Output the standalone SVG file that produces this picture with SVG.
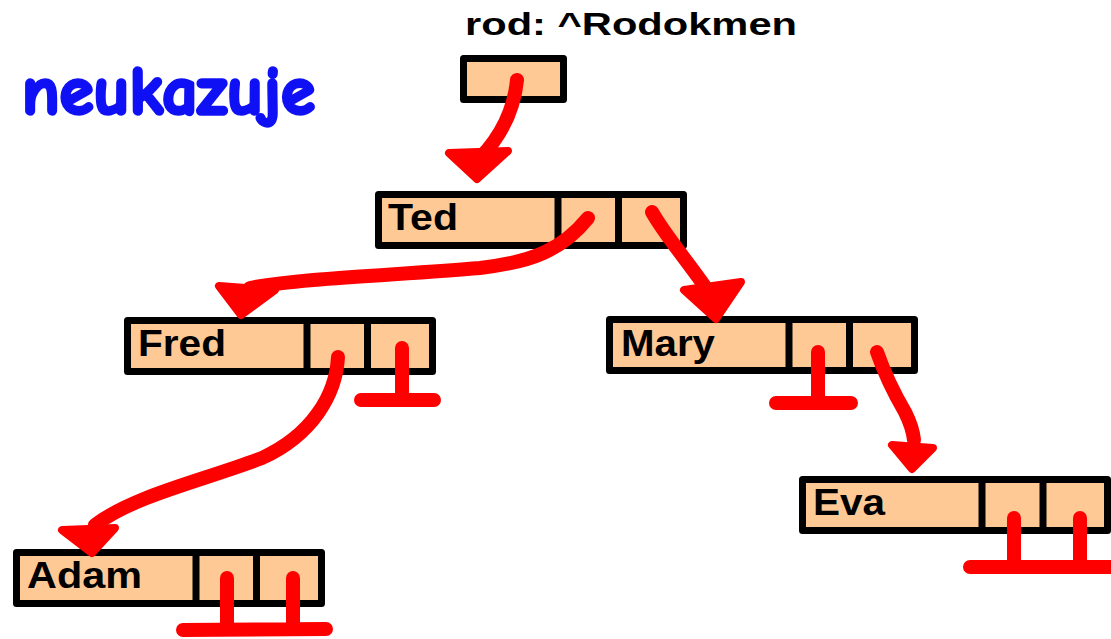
<svg xmlns="http://www.w3.org/2000/svg" width="1111" height="639" viewBox="0 0 1111 639">
  <style>
    .cell { fill: #FFC995; stroke: #000; stroke-width: 7; stroke-linejoin: round; }
    .div { stroke: #000; stroke-width: 7; }
    .name { font-family: "Liberation Sans", Arial, sans-serif; font-weight: bold; font-size: 36px; fill: #000; }
    .ptr { fill: none; stroke: #FF0000; stroke-width: 14; stroke-linecap: round; stroke-linejoin: round; }
    .head { fill: #FF0000; stroke: #FF0000; stroke-width: 8; stroke-linejoin: round; }
  </style>
  <rect width="1111" height="639" fill="#fff"/>

  <text x="465" y="35" font-family="'Liberation Sans', Arial, sans-serif" font-weight="bold" font-size="31" textLength="332" lengthAdjust="spacingAndGlyphs">rod: ^Rodokmen</text>
  <text x="22" y="114" font-family="'Comic Neue', 'DejaVu Sans', sans-serif" font-weight="bold" font-size="69" fill="#1010F5" stroke="#1010F5" stroke-width="3.5" stroke-linejoin="round" textLength="293" lengthAdjust="spacingAndGlyphs">neukazuje</text>

  <g id="rod">
    <rect class="cell" x="463.5" y="58.5" width="100" height="41"/>
  </g>

  <g id="ted" transform="translate(375,191)">
    <rect class="cell" x="3.5" y="3.5" width="305" height="51"/>
    <line class="div" x1="183" y1="0" x2="183" y2="58"/>
    <line class="div" x1="243.5" y1="0" x2="243.5" y2="58"/>
    <text class="name" x="13" y="39" textLength="70" lengthAdjust="spacingAndGlyphs">Ted</text>
  </g>

  <g id="fred" transform="translate(124,317)">
    <rect class="cell" x="3.5" y="3.5" width="305" height="51"/>
    <line class="div" x1="183" y1="0" x2="183" y2="58"/>
    <line class="div" x1="243.5" y1="0" x2="243.5" y2="58"/>
    <text class="name" x="14" y="39" textLength="88" lengthAdjust="spacingAndGlyphs">Fred</text>
  </g>

  <g id="mary" transform="translate(606,316)">
    <rect class="cell" x="3.5" y="3.5" width="305" height="51"/>
    <line class="div" x1="183" y1="0" x2="183" y2="58"/>
    <line class="div" x1="243.5" y1="0" x2="243.5" y2="58"/>
    <text class="name" x="15" y="40" textLength="94" lengthAdjust="spacingAndGlyphs">Mary</text>
  </g>

  <g id="adam" transform="translate(13,549)">
    <rect class="cell" x="3.5" y="3.5" width="305" height="51"/>
    <line class="div" x1="183" y1="0" x2="183" y2="58"/>
    <line class="div" x1="243.5" y1="0" x2="243.5" y2="58"/>
    <text class="name" x="14" y="39" textLength="115" lengthAdjust="spacingAndGlyphs">Adam</text>
  </g>

  <g id="eva" transform="translate(799,476)">
    <rect class="cell" x="3.5" y="3.5" width="305" height="51"/>
    <line class="div" x1="183" y1="0" x2="183" y2="58"/>
    <line class="div" x1="244" y1="0" x2="244" y2="58"/>
    <text class="name" x="14" y="39" textLength="72" lengthAdjust="spacingAndGlyphs">Eva</text>
  </g>

  <g id="connectors">
    <!-- rod -> Ted -->
    <path class="ptr" d="M517,80 C514,110 502,135 480,158"/>
    <polygon class="head" points="449,153 508,151 477,179"/>
    <!-- Ted -> Fred -->
    <path class="ptr" d="M588,218 C562,250 532,262 480,268 C400,275 300,278 250,288"/>
    <polygon class="head" points="219,286 275,290 241,315"/>
    <!-- Ted -> Mary -->
    <path class="ptr" d="M652,212 C665,235 685,258 706,288"/>
    <polygon class="head" points="684,290 741,282 716,319"/>
    <!-- Fred -> Adam -->
    <path class="ptr" d="M338,357 C336,395 312,435 262,458 C205,480 135,495 95,525"/>
    <polygon class="head" points="62,530 115,528 92,553"/>
    <!-- Fred right: nil -->
    <path class="ptr" d="M402,348 L402,398 M361,400 L434,400"/>
    <!-- Mary left: nil -->
    <path class="ptr" d="M818,352 L818,400 M776,403 L851,403"/>
    <!-- Mary -> Eva -->
    <path class="ptr" d="M877,352 C885,375 895,395 905,412 C910,422 913,430 914,440"/>
    <polygon class="head" points="892,445 933,448 912,469"/>
    <!-- Adam: nil, nil -->
    <path class="ptr" d="M227,578 L227,627 M293,578 L293,627 M183,630 L326,629"/>
    <!-- Eva: nil, nil -->
    <path class="ptr" d="M1014,518 L1014,563 M1080,518 L1080,563 M970,567 L1111,567"/>
  </g>
</svg>
